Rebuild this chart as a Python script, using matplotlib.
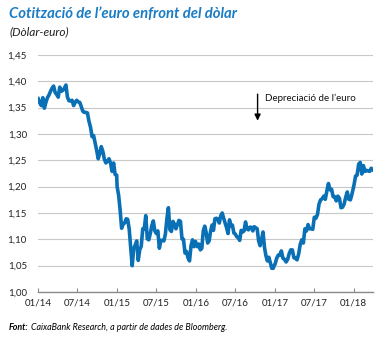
import numpy as np
import pandas as pd
import matplotlib.pyplot as plt
from matplotlib.ticker import FuncFormatter

plt.rcParams['font.family'] = ['Lato', 'DejaVu Sans']

# weekly EUR/USD values
eur_2014 = [1.367, 1.359, 1.354, 1.369, 1.349,
            1.360, 1.369, 1.374, 1.381,
            1.387, 1.391, 1.379, 1.375,
            1.370, 1.389, 1.381, 1.383,
            1.387, 1.393, 1.370, 1.363, 1.363,
            1.364, 1.354, 1.360, 1.364,
            1.361, 1.360, 1.352, 1.343,
            1.341, 1.341, 1.340, 1.324, 1.313,
            1.295, 1.297, 1.283, 1.269,
            1.253, 1.263, 1.276, 1.267, 1.252,
            1.245, 1.248, 1.253, 1.245,
            1.229, 1.245, 1.223, 1.222]
eur_2015 = [1.200, 1.184, 1.156, 1.121, 1.129,
            1.131, 1.139, 1.138, 1.120,
            1.084, 1.050, 1.082, 1.089,
            1.097, 1.060, 1.080, 1.087,
            1.120, 1.120, 1.145, 1.101, 1.099,
            1.111, 1.126, 1.135, 1.116,
            1.111, 1.116, 1.083, 1.098, 1.098,
            1.097, 1.110, 1.139, 1.160, 1.118,
            1.115, 1.134, 1.129, 1.120,
            1.128, 1.136, 1.134, 1.101, 1.100,
            1.074, 1.077, 1.065, 1.059,
            1.088, 1.099, 1.086, 1.096]
eur_2016 = [1.092, 1.086, 1.091, 1.080, 1.083,
            1.116, 1.125, 1.113, 1.093,
            1.097, 1.115, 1.127, 1.117, 1.139,
            1.140, 1.138, 1.131, 1.145,
            1.150, 1.140, 1.131, 1.122, 1.111,
            1.137, 1.125, 1.127, 1.112, 1.110,
            1.105, 1.103, 1.098, 1.117,
            1.114, 1.116, 1.133, 1.120, 1.118,
            1.123, 1.123, 1.116, 1.124, 1.122,
            1.120, 1.097, 1.088, 1.099,
            1.114, 1.085, 1.069, 1.059,
            1.066, 1.056, 1.045, 1.045, 1.052]
eur_2017 = [1.053, 1.064, 1.070, 1.070,
            1.078, 1.064, 1.062, 1.057,
            1.062, 1.073, 1.080, 1.080, 1.065,
            1.064, 1.061, 1.072, 1.090,
            1.099, 1.093, 1.120, 1.116,
            1.128, 1.120, 1.120, 1.119, 1.142,
            1.140, 1.147, 1.167, 1.175,
            1.177, 1.182, 1.176, 1.192,
            1.206, 1.194, 1.195, 1.181, 1.181,
            1.173, 1.182, 1.178, 1.160,
            1.161, 1.167, 1.180, 1.190,
            1.176, 1.175, 1.186, 1.200]
eur_2018 = [1.203, 1.220, 1.222, 1.243,
            1.246, 1.224, 1.240, 1.229, 1.231,
            1.230, 1.229, 1.235, 1.232]

tick_labels = ['01/14', '07/14', '01/15', '07/15', '01/16', '07/16', '01/17', '07/17', '01/18']

years = {2014: eur_2014, 2015: eur_2015, 2016: eur_2016, 2017: eur_2017, 2018: eur_2018}
parts = []
for yr, vals in years.items():
    end = '2018-03-30' if yr == 2018 else f'{yr}-12-31'
    d = pd.date_range(f'{yr}-01-02', end, periods=len(vals))
    parts.append(pd.Series(vals, index=d))
serie = pd.concat(parts)

blue = '#0a70b6'
fig = plt.figure(figsize=(3.92, 3.38), dpi=100)
ax = fig.add_axes([38/392, 46/338, 335/392, 237/338])

ax.plot(serie.index, serie.values, color=blue, lw=2.6, solid_joinstyle='round')

ax.set_ylim(1.0, 1.45)
ax.set_yticks(np.arange(1.0, 1.451, 0.05))
ax.yaxis.set_major_formatter(FuncFormatter(lambda v, p: f'{v:.2f}'.replace('.', ',')))
ax.set_xlim(pd.Timestamp('2014-01-01'), pd.Timestamp('2018-03-31'))
ticks = pd.date_range('2014-01-01', '2018-01-01', freq='6MS')
ax.set_xticks(ticks)
ax.set_xticklabels(tick_labels)

ax.grid(axis='y', color='#c8c8c8', lw=0.8)
ax.set_axisbelow(True)
for s in ['top', 'right', 'left']:
    ax.spines[s].set_visible(False)
ax.spines['bottom'].set_color('#8a8a8a')
ax.spines['bottom'].set_linewidth(1.0)
ax.tick_params(axis='y', length=0, pad=8, labelsize=7, colors='#222222')
ax.tick_params(axis='x', direction='in', length=3, color='#8a8a8a', pad=5, labelsize=7, labelcolor='#222222')

# annotation
ax.annotate('', xy=(pd.Timestamp('2016-10-13'), 1.320), xytext=(pd.Timestamp('2016-10-13'), 1.381),
            arrowprops=dict(arrowstyle='-|>', color='black', lw=1.0, mutation_scale=9))
ax.text(pd.Timestamp('2016-11-14'), 1.367, 'Depreciació de l\u2019euro', fontsize=7, va='center', color='#111111')

fig.text(9/392, 1 - 14/338, 'Cotització de l\u2019euro enfront del dòlar', fontsize=10.7, fontweight='bold',
         style='italic', color='#1a7cc4', va='center')
fig.text(9/392, 1 - 32/338, '(Dòlar-euro)', fontsize=8.6, style='italic', va='center', color='#222222')

t1 = fig.text(9/392, 1 - 327/338, 'Font:', fontsize=6.4, fontweight='bold', style='italic', va='center')
fig.canvas.draw()
bb = t1.get_window_extent()
fig.text((bb.x1 + 2) / 392, 1 - 327/338, 'CaixaBank Research, a partir de dades de Bloomberg.',
         fontsize=6.4, style='italic', va='center')

fig.savefig('out.png', dpi=100)
